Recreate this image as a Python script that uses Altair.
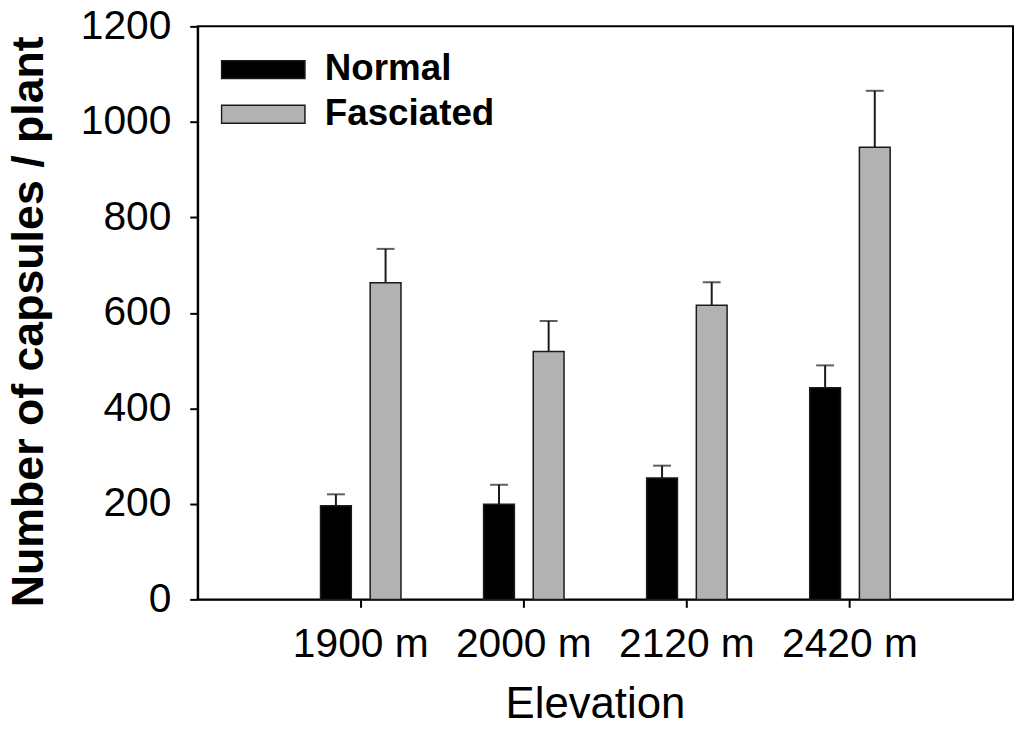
import altair as alt
import pandas as pd

elevations = ["1900 m", "2000 m", "2120 m", "2420 m"]
groups = ["Normal", "Fasciated"]
normal_mean = [196, 199, 254, 443]
normal_se = [24, 41, 26, 47]
fasciated_mean = [663, 519, 616, 947]
fasciated_se = [71, 64, 48, 118]
y_ticks = [0, 200, 400, 600, 800, 1000, 1200]

rows = []
for i, e in enumerate(elevations):
    rows.append({"Elevation": e, "Group": "Normal", "Mean": normal_mean[i],
                 "Upper": normal_mean[i] + normal_se[i]})
    rows.append({"Elevation": e, "Group": "Fasciated", "Mean": fasciated_mean[i],
                 "Upper": fasciated_mean[i] + fasciated_se[i]})
df = pd.DataFrame(rows)

FONT = "Liberation Sans"
EDGE = "#1a1a1a"

base = alt.Chart(df).encode(
    x=alt.X("Elevation:N", sort=elevations,
            scale=alt.Scale(paddingOuter=0.5, paddingInner=0),
            axis=alt.Axis(title="Elevation", labelAngle=0, labelPadding=18,
                          titleFontSize=44, titleFontWeight="normal",
                          titleX=400, titleY=119, titleBaseline="alphabetic",
                          titleAlign="center")),
    xOffset=alt.XOffset("Group:N", sort=groups,
                        scale=alt.Scale(paddingInner=0.38, paddingOuter=0.832)),
)

bars = base.mark_bar(stroke=EDGE, strokeWidth=1.5).encode(
    y=alt.Y("Mean:Q", scale=alt.Scale(domain=[0, 1200], nice=False),
            axis=alt.Axis(title="Number of capsules / plant", values=y_ticks,
                          format="d", labelPadding=19, titleFontSize=45,
                          titleFontWeight="bold",
                          titleX=-156, titleY=297, titleBaseline="alphabetic",
                          titleAlign="center", titleAngle=-90)),
    color=alt.Color("Group:N", sort=groups,
                    scale=alt.Scale(domain=groups, range=["#000000", "#b2b2b2"]),
                    legend=alt.Legend(title=None, orient="none", legendX=23, legendY=25,
                                      symbolType="M-1,-0.214H1V0.214H-1Z",
                                      symbolSize=7056, symbolStrokeWidth=1.5,
                                      symbolStrokeColor=EDGE,
                                      labelFont=FONT, labelFontSize=37,
                                      labelFontWeight="bold", labelColor="black",
                                      labelLimit=0, labelOffset=19, rowPadding=7,
                                      clipHeight=37, padding=0)),
)

rules = base.mark_rule(color=EDGE, strokeWidth=2).encode(
    y="Mean:Q", y2="Upper:Q")
caps = base.mark_tick(color=EDGE, thickness=2, size=18).encode(y="Upper:Q")

chart = alt.layer(bars, rules, caps).properties(
    width=821, height=577,
    autosize=alt.AutoSizeParams(type="none"),
    padding={"left": 191, "top": 16, "right": 2, "bottom": 122},
).configure_view(
    stroke="black", strokeWidth=2
).configure_axis(
    domainColor="black", domainWidth=2, tickColor="black", tickWidth=2,
    tickSize=8, labelFont=FONT, labelFontSize=41, labelColor="black",
    titleFont=FONT, titleColor="black", grid=False
)

chart.save("out.html", embed_options={"renderer": "svg", "actions": False})
